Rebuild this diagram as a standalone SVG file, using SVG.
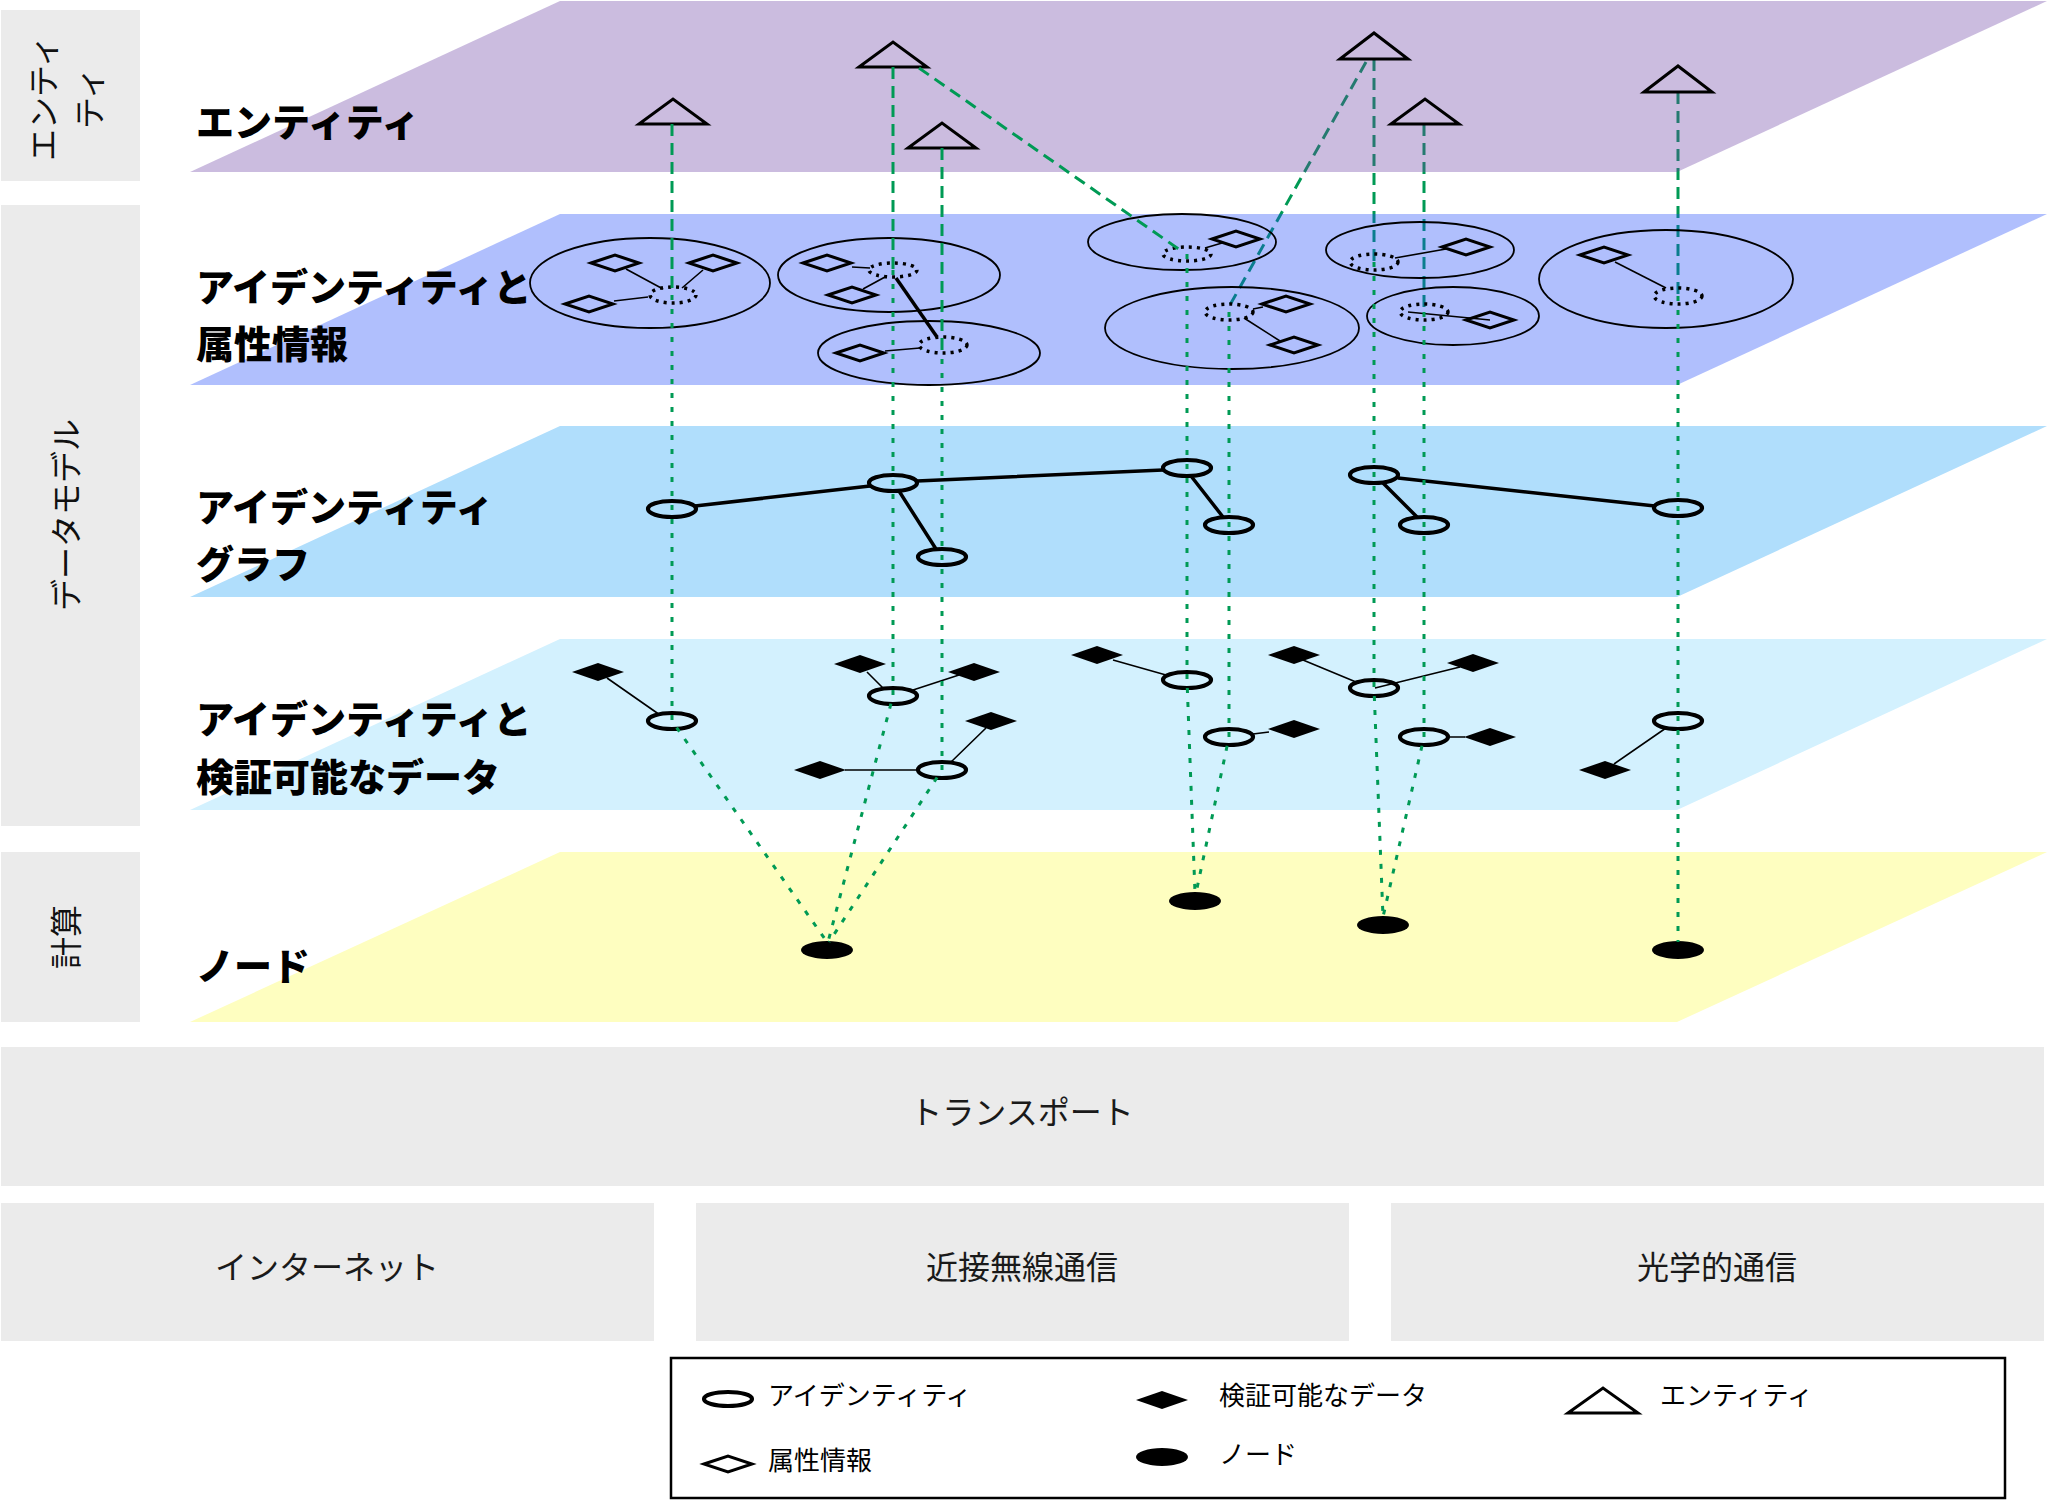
<svg xmlns="http://www.w3.org/2000/svg" width="2048" height="1502" viewBox="0 0 2048 1502">
<style>
.bg{fill:#ebebeb}
.side{font-family:"Noto Sans CJK JP",sans-serif;font-size:32px;fill:#111;text-anchor:middle;dominant-baseline:central}
.lbl{font-family:"Noto Sans CJK JP",sans-serif;font-size:38px;font-weight:900;fill:#000}
.big{font-family:"Noto Sans CJK JP",sans-serif;font-size:32px;fill:#1a1a1a;text-anchor:middle;dominant-baseline:central}
.leg{font-family:"Noto Sans CJK JP",sans-serif;font-size:26px;fill:#000}
.tri{fill:none;stroke:#000;stroke-width:3}
.grp{fill:none;stroke:#000;stroke-width:1.8}
.dotid{fill:none;stroke:#000;stroke-width:3.5;stroke-dasharray:3 5}
.hd{fill:none;stroke:#000;stroke-width:3}
.fd{fill:#000}
.id{fill:none;stroke:#000;stroke-width:4.2}
.thin{stroke:#000;stroke-width:1.6;fill:none}
.thick{stroke:#000;stroke-width:3.5;fill:none}
.dash{stroke:#009a55;stroke-width:3;stroke-dasharray:12 7;fill:none}
.dot{stroke:#009a55;stroke-width:3;stroke-dasharray:5 9;fill:none}
</style>

<g id="side-boxes">
  <rect class="bg" x="1" y="10" width="139" height="171"/>
  <text class="side" font-size="30" transform="translate(41,98) rotate(-90)">エンティ</text>
  <text class="side" font-size="30" transform="translate(87,98) rotate(-90)">ティ</text>
  <rect class="bg" x="1" y="205" width="139" height="621"/>
  <text class="side" transform="translate(64,515) rotate(-90)">データモデル</text>
  <rect class="bg" x="1" y="852" width="139" height="170"/>
  <text class="side" transform="translate(64,937) rotate(-90)">計算</text>
</g>

<g id="connectors-under">
  <path class="dash" d="M1374,59 V262"/>
  <path class="dash" d="M1366,62 L1230,305"/>
  <path class="dash" d="M1424,124 V312"/>
  <path class="dash" d="M1678,92 V296"/>
</g>

<g id="layers">
  <polygon id="layer-entity" points="560,1 2047,1 1677,172 190,172" fill="#6a40a4" fill-opacity="0.35"/>
  <polygon id="layer-attr" points="560,214 2047,214 1677,385 190,385" fill="#1d48f9" fill-opacity="0.35"/>
  <polygon id="layer-graph" points="560,426 2047,426 1677,597 190,597" fill="#b0defc"/>
  <polygon id="layer-data" points="560,639 2047,639 1677,810 190,810" fill="#d3f1fe"/>
  <polygon id="layer-node" points="560,852 2047,852 1677,1022 190,1022" fill="#fefec0"/>
  <text class="lbl" x="196" y="136">エンティティ</text>
  <text class="lbl" x="196" y="301">アイデンティティと</text>
  <text class="lbl" x="196" y="358">属性情報</text>
  <text class="lbl" x="196" y="521">アイデンティティ</text>
  <text class="lbl" x="196" y="578">グラフ</text>
  <text class="lbl" x="196" y="733">アイデンティティと</text>
  <text class="lbl" x="196" y="791">検証可能なデータ</text>
  <text class="lbl" x="196" y="980">ノード</text>
</g>

<g id="entities">
  <polygon id="t1" class="tri" points="639,124 673,99 707,124"/>
  <polygon id="t2" class="tri" points="859,67 893,42 927,67"/>
  <polygon id="t3" class="tri" points="908,148 942,123 976,148"/>
  <polygon id="t4" class="tri" points="1340,59 1374,33 1408,59"/>
  <polygon id="t5" class="tri" points="1391,124 1425,99 1459,124"/>
  <polygon id="t6" class="tri" points="1644,92 1678,66 1712,92"/>
</g>

<g id="attr-groups">
  <g id="ag1">
    <ellipse class="grp" cx="650" cy="283" rx="120" ry="45"/>
    <path class="thin" d="M626,269 L663,289 M703,270 L682,288 M614,301 L648,297"/>
    <ellipse class="dotid" cx="673" cy="295" rx="23" ry="8"/>
    <polygon class="hd" points="591,263 615,255 639,263 615,271"/>
    <polygon class="hd" points="565,304 589,296 613,304 589,312"/>
    <polygon class="hd" points="689,263 713,255 737,263 713,271"/>
  </g>
  <g id="ag2">
    <ellipse class="grp" cx="889" cy="275" rx="111" ry="37"/>
    <path class="thin" d="M852,267 L870,268 M863,289 L885,277"/>
    <ellipse class="dotid" cx="893" cy="270" rx="24" ry="7"/>
    <polygon class="hd" points="803,263 827,255 851,263 827,271"/>
    <polygon class="hd" points="828,295 852,287 876,295 852,303"/>
  </g>
  <g id="ag3">
    <ellipse class="grp" cx="929" cy="353" rx="111" ry="32"/>
    <path class="thin" d="M885,351 L920,348"/>
    <ellipse class="dotid" cx="943" cy="345" rx="24" ry="8"/>
    <polygon class="hd" points="836,353 860,345 884,353 860,361"/>
  </g>
  <path class="thick" d="M896,278 L937,337" stroke-width="2.8"/>
  <g id="ag4">
    <ellipse class="grp" cx="1182" cy="242" rx="94" ry="28"/>
    <path class="thin" d="M1205,248 L1222,243"/>
    <ellipse class="dotid" cx="1187" cy="254" rx="24" ry="7"/>
    <polygon class="hd" points="1212,239 1236,231 1260,239 1236,247"/>
  </g>
  <g id="ag5">
    <ellipse class="grp" cx="1232" cy="328" rx="127" ry="41"/>
    <path class="thin" d="M1253,309 L1263,307 M1244,318 L1280,341"/>
    <ellipse class="dotid" cx="1229" cy="312" rx="24" ry="8"/>
    <polygon class="hd" points="1262,304 1286,296 1310,304 1286,312"/>
    <polygon class="hd" points="1270,345 1294,337 1318,345 1294,353"/>
  </g>
  <g id="ag6">
    <ellipse class="grp" cx="1420" cy="250" rx="94" ry="28"/>
    <path class="thin" d="M1395,258 L1446,249"/>
    <ellipse class="dotid" cx="1374" cy="262" rx="24" ry="8"/>
    <polygon class="hd" points="1442,247 1466,239 1490,247 1466,255"/>
  </g>
  <g id="ag7">
    <ellipse class="grp" cx="1453" cy="316" rx="86" ry="29"/>
    <path class="thin" d="M1408,312 L1490,320" stroke="#1a2a7a"/>
    <ellipse class="dotid" cx="1424" cy="312" rx="24" ry="8"/>
    <polygon class="hd" points="1466,320 1490,312 1514,320 1490,328" stroke="#14246e"/>
  </g>
  <g id="ag8">
    <ellipse class="grp" cx="1666" cy="279" rx="127" ry="49"/>
    <path class="thin" d="M1615,262 L1666,288"/>
    <ellipse class="dotid" cx="1678" cy="296" rx="24" ry="8"/>
    <polygon class="hd" points="1580,255 1604,247 1628,255 1604,263"/>
  </g>
</g>

<g id="identity-graph">
  <path class="thick" d="M695,506 L870,486 M917,481 L1163,470 M899,491 L936,549 M1191,476 L1223,517 M1383,483 L1417,517 M1398,478 L1655,506"/>
  <ellipse id="g1" class="id" cx="672" cy="509" rx="24" ry="8"/>
  <ellipse id="g2" class="id" cx="893" cy="483" rx="24" ry="8"/>
  <ellipse id="g3" class="id" cx="942" cy="557" rx="24" ry="8"/>
  <ellipse id="g4" class="id" cx="1187" cy="468" rx="24" ry="8"/>
  <ellipse id="g5" class="id" cx="1229" cy="525" rx="24" ry="8"/>
  <ellipse id="g6" class="id" cx="1374" cy="475" rx="24" ry="8"/>
  <ellipse id="g7" class="id" cx="1424" cy="525" rx="24" ry="8"/>
  <ellipse id="g8" class="id" cx="1678" cy="508" rx="24" ry="8"/>
</g>

<g id="verifiable-data">
  <path class="thin" d="M607,678 L660,715 M867,672 L884,689 M913,690 L959,675 M950,763 L986,728 M845,770 L918,770 M1113,660 L1166,675 M1253,734 L1269,732 M1303,660 L1356,682 M1375,688 L1460,667 M1448,737 L1465,737 M1666,728 L1614,764"/>
  <ellipse id="d1" class="id" cx="672" cy="721" rx="24" ry="8"/>
  <ellipse id="d2" class="id" cx="893" cy="696" rx="24" ry="8"/>
  <ellipse id="d3" class="id" cx="942" cy="770" rx="24" ry="8"/>
  <ellipse id="d4" class="id" cx="1187" cy="680" rx="24" ry="8"/>
  <ellipse id="d5" class="id" cx="1229" cy="737" rx="24" ry="8"/>
  <ellipse id="d6" class="id" cx="1374" cy="688" rx="24" ry="8"/>
  <ellipse id="d7" class="id" cx="1424" cy="737" rx="24" ry="8"/>
  <ellipse id="d8" class="id" cx="1678" cy="721" rx="24" ry="8"/>
  <polygon class="fd" points="572,672 598,663 624,672 598,681"/>
  <polygon class="fd" points="834,664 860,655 886,664 860,673"/>
  <polygon class="fd" points="948,672 974,663 1000,672 974,681"/>
  <polygon class="fd" points="965,721 991,712 1017,721 991,730"/>
  <polygon class="fd" points="794,770 820,761 846,770 820,779"/>
  <polygon class="fd" points="1071,655 1097,646 1123,655 1097,664"/>
  <polygon class="fd" points="1268,729 1294,720 1320,729 1294,738"/>
  <polygon class="fd" points="1268,655 1294,646 1320,655 1294,664"/>
  <polygon class="fd" points="1447,663 1473,654 1499,663 1473,672"/>
  <polygon class="fd" points="1464,737 1490,728 1516,737 1490,746"/>
  <polygon class="fd" points="1579,770 1605,761 1631,770 1605,779"/>
</g>

<g id="nodes">
  <ellipse id="n1" cx="827" cy="950" rx="26" ry="9" fill="#000"/>
  <ellipse id="n2" cx="1195" cy="901" rx="26" ry="9" fill="#000"/>
  <ellipse id="n3" cx="1383" cy="925" rx="26" ry="9" fill="#000"/>
  <ellipse id="n4" cx="1678" cy="950" rx="26" ry="9" fill="#000"/>
</g>

<g id="connectors">
  <path class="dash" d="M672,124 V295"/>
  <path class="dash" d="M893,67 V270"/>
  <path class="dash" d="M919,68 L1180,250"/>
  <path class="dash" d="M942,148 V345"/>
  <path class="dot" d="M672,295 V721 L827,942"/>
  <path class="dot" d="M893,270 V696 L828,942"/>
  <path class="dot" d="M942,345 V770 L829,942"/>
  <path class="dot" d="M1187,254 V680 L1195,893"/>
  <path class="dot" d="M1229,312 V737 L1196,893"/>
  <path class="dot" d="M1374,262 V688 L1383,917"/>
  <path class="dot" d="M1424,312 V737 L1383,917"/>
  <path class="dot" d="M1678,296 V942"/>
</g>

<g id="transport">
  <rect class="bg" x="1" y="1047" width="2043" height="139"/>
  <text class="big" x="1022" y="1110">トランスポート</text>
  <rect class="bg" x="1" y="1203" width="653" height="138"/>
  <text class="big" x="327" y="1265">インターネット</text>
  <rect class="bg" x="696" y="1203" width="653" height="138"/>
  <text class="big" x="1022" y="1265">近接無線通信</text>
  <rect class="bg" x="1391" y="1203" width="653" height="138"/>
  <text class="big" x="1717" y="1265">光学的通信</text>
</g>

<g id="legend">
  <rect x="671" y="1358" width="1334" height="140" fill="#fff" stroke="#000" stroke-width="2.5"/>
  <ellipse class="id" cx="728" cy="1399" rx="24" ry="7" stroke-width="3.5"/>
  <text class="leg" x="768" y="1405">アイデンティティ</text>
  <polygon class="fd" points="1136,1400 1162,1391 1188,1400 1162,1409"/>
  <text class="leg" x="1219" y="1405">検証可能なデータ</text>
  <polygon class="tri" points="1568,1413 1603,1388 1638,1413"/>
  <text class="leg" x="1660" y="1405">エンティティ</text>
  <polygon class="hd" points="704,1464 728,1456 752,1464 728,1472"/>
  <text class="leg" x="768" y="1470">属性情報</text>
  <ellipse cx="1162" cy="1457" rx="26" ry="9" fill="#000"/>
  <text class="leg" x="1219" y="1464">ノード</text>
</g>
</svg>
